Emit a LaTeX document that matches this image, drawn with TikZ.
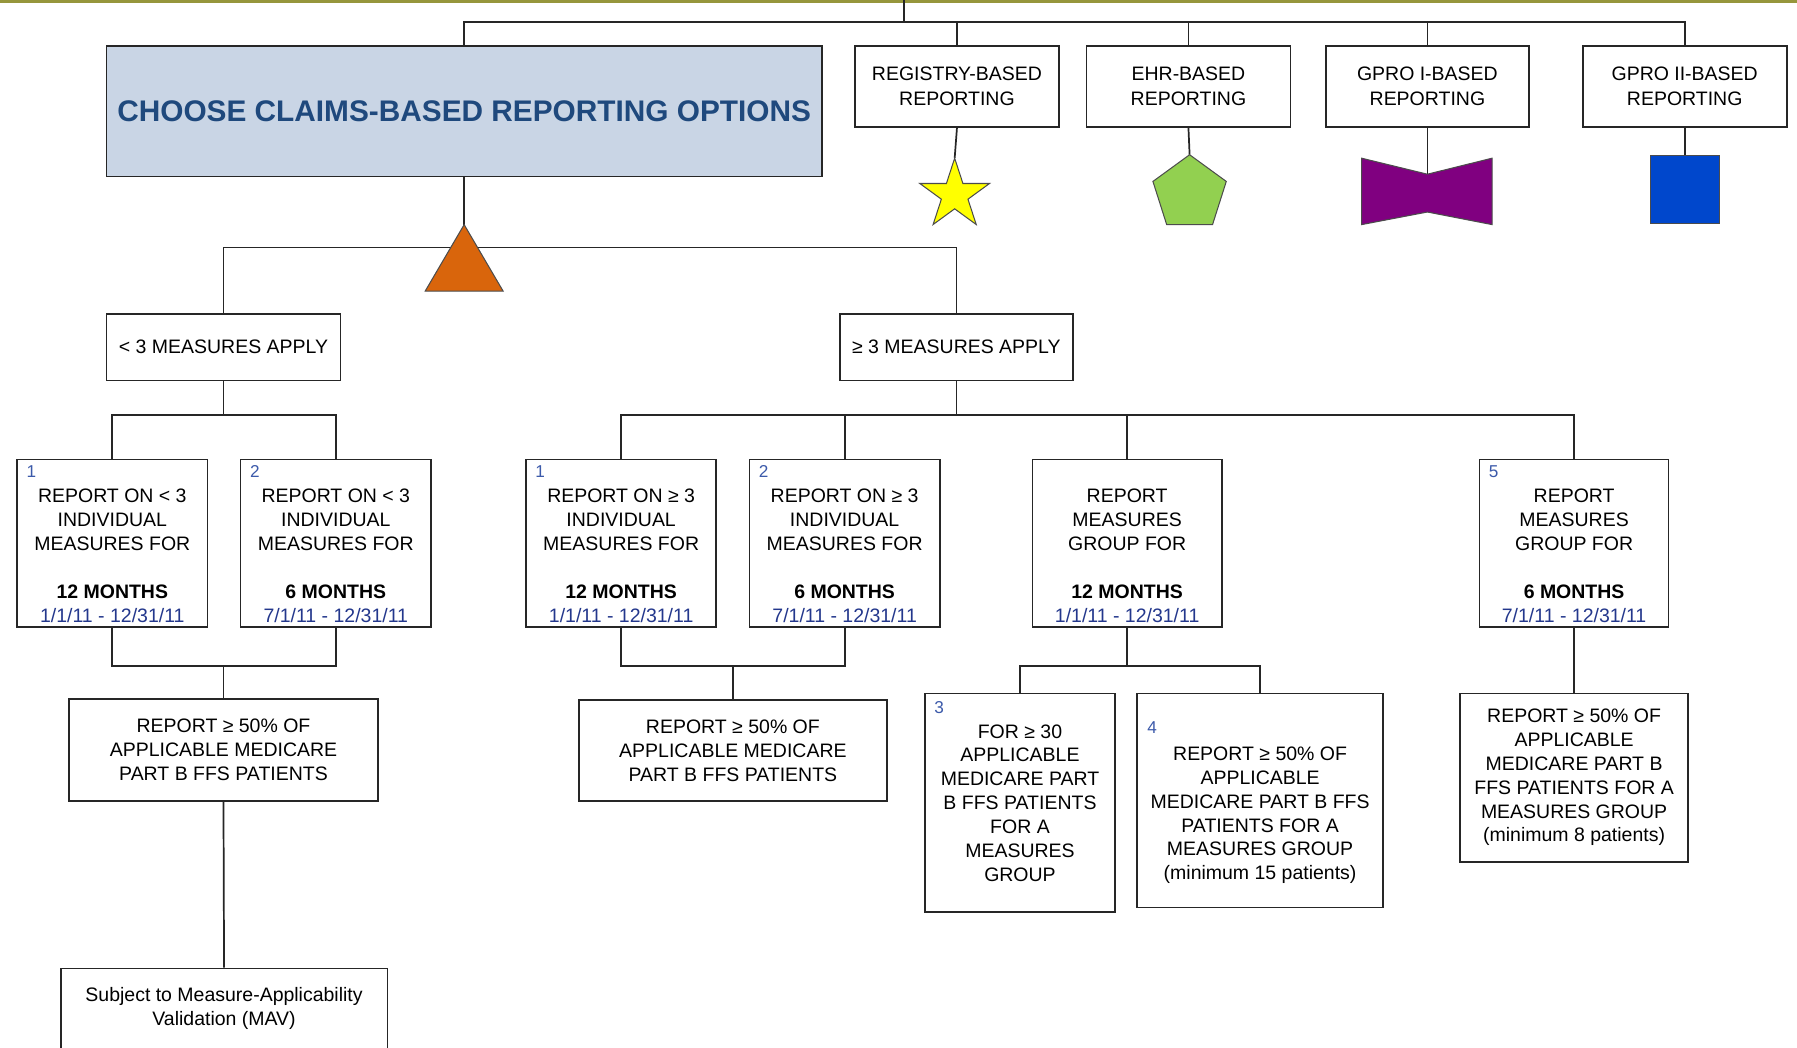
\documentclass[tikz,border=0pt]{standalone}
\usepackage{fontspec}
\setmainfont{Liberation Sans}
\definecolor{titleblue}{RGB}{31,73,125}
\definecolor{boxfill}{RGB}{201,213,229}
\definecolor{numblue}{RGB}{60,90,170}
\definecolor{dateblue}{RGB}{35,55,140}
\definecolor{triorange}{RGB}{217,101,12}
\definecolor{stargold}{RGB}{255,255,0}
\definecolor{pentgreen}{RGB}{146,208,80}
\definecolor{bowpurple}{RGB}{128,0,128}
\definecolor{sqblue}{RGB}{0,71,204}
\definecolor{olivebar}{RGB}{150,150,60}
\begin{document}
\begin{tikzpicture}[x=1pt,y=-1pt,
  box/.style={draw=black!85, line width=1.4pt, inner sep=0pt, fill=white},
  txt/.style={font=\fontsize{17}{20.8}\selectfont, align=center, inner sep=0pt},
  toptxt/.style={font=\fontsize{17}{22}\selectfont, align=center},
  num/.style={font=\fontsize{15}{18}\selectfont, text=numblue, inner sep=0pt, anchor=base west},
  conn/.style={draw=black!85, line width=1.5pt},
  symb/.style={draw=black!70, line width=0.9pt}
]
\useasboundingbox (0,0) rectangle (1568,914);
\fill[white] (0,0) rectangle (1568,914);
\clip (0,0) rectangle (1568,914);
\draw[olivebar, line width=3pt] (0,1) -- (1568,1);

% ---------- top row ----------
\node[box, fill=boxfill, minimum width=624pt, minimum height=114pt] (main) at (405,97)
  {\fontsize{26}{30}\selectfont\bfseries\color{titleblue}CHOOSE CLAIMS-BASED REPORTING OPTIONS};
\node[box, toptxt, minimum width=178pt, minimum height=71pt] (reg) at (835,75.5) {REGISTRY-BASED\\REPORTING};
\node[box, toptxt, minimum width=178pt, minimum height=71pt] (ehr) at (1037,75.5) {EHR-BASED\\REPORTING};
\node[box, toptxt, minimum width=177pt, minimum height=71pt] (gp1) at (1245.5,75.5) {GPRO I-BASED\\REPORTING};
\node[box, toptxt, minimum width=178pt, minimum height=71pt] (gp2) at (1470,75.5) {GPRO II-BASED\\REPORTING};

\coordinate (top) at (789,0);
\coordinate (bus) at (789,19);
\draw[conn] (top) -- (bus);
\draw[conn] (main.north) |- (bus) -| (gp2.north);
\draw[conn] (reg.north) -- (reg.north |- bus);
\draw[conn] (ehr.north) -- (ehr.north |- bus);
\draw[conn] (gp1.north) -- (gp1.north |- bus);

% symbols
\coordinate (startop) at (833,138);
\coordinate (penttop) at (1038,135);
\coordinate (bowtop) at (1245.5,152);
\coordinate (sqtop) at (1470,136);
\draw[conn] (reg.south) -- (startop);
\draw[conn] (ehr.south) -- (penttop);
\draw[conn] (gp1.south) -- (bowtop);
\draw[conn] (gp2.south) -- (sqtop);
\filldraw[symb, fill=stargold] (833,138)--(825.8,160.1)--(802.6,160.1)--(821.4,173.8)--(814.2,195.9)--(833,182.2)--(851.8,195.9)--(844.6,173.8)--(863.4,160.1)--(840.2,160.1)--cycle;
\filldraw[symb, fill=pentgreen] (1038,135)--(1006,158.3)--(1018,196)--(1058,196)--(1070,158.3)--cycle;
\filldraw[symb, fill=bowpurple] (1188,138)--(1245.5,152)--(1302,138)--(1302,196)--(1245.5,185)--(1188,196)--cycle;
\filldraw[symb, fill=sqblue] (1440,136) rectangle (1500,195);

% ---------- second level ----------
\node[box, txt, minimum width=204pt, minimum height=58pt] (lt3) at (195,303) {< 3 MEASURES APPLY};
\node[box, txt, minimum width=203pt, minimum height=58pt] (ge3) at (834.5,303) {≥ 3 MEASURES APPLY};
\coordinate (triapex) at (405,196);
\coordinate (split) at (405,216);
\draw[conn] (main.south) -- (triapex);
\draw[conn] (lt3.north) |- (split) -| (ge3.north);
\filldraw[symb, fill=triorange] (triapex) -- (371,254) -- (439,254) -- cycle;

% ---------- third level boxes ----------
\foreach \n/\cx in {L1/98, L2/293, R1/542, R2/737}{
  \node[box, minimum width=166pt, minimum height=146pt] (\n) at (\cx,474) {};
}
\node[box, minimum width=165pt, minimum height=146pt] (R3) at (983.5,474) {};
\node[box, minimum width=165pt, minimum height=146pt] (R5) at (1373.5,474) {};

\node[num] (n1) at (23,416.4) {1};
\node[num] (n2) at (218,416.4) {2};
\node[num] (n3) at (467,416.4) {1};
\node[num] (n4) at (662,416.4) {2};
\node[num] (n5) at (1299,416.4) {5};

\node[txt, anchor=north] (L1t) at (98,426.5) {REPORT ON < 3\\INDIVIDUAL\\MEASURES FOR\\[21pt]\textbf{12 MONTHS}\\\textcolor{dateblue}{1/1/11 - 12/31/11}};
\node[txt, anchor=north] (L2t) at (293,426.5) {REPORT ON < 3\\INDIVIDUAL\\MEASURES FOR\\[21pt]\textbf{6 MONTHS}\\\textcolor{dateblue}{7/1/11 - 12/31/11}};
\node[txt, anchor=north] (R1t) at (542,426.5) {REPORT ON ≥ 3\\INDIVIDUAL\\MEASURES FOR\\[21pt]\textbf{12 MONTHS}\\\textcolor{dateblue}{1/1/11 - 12/31/11}};
\node[txt, anchor=north] (R2t) at (737,426.5) {REPORT ON ≥ 3\\INDIVIDUAL\\MEASURES FOR\\[21pt]\textbf{6 MONTHS}\\\textcolor{dateblue}{7/1/11 - 12/31/11}};
\node[txt, anchor=north] (R3t) at (983.5,426.5) {REPORT\\MEASURES\\GROUP FOR\\[21pt]\textbf{12 MONTHS}\\\textcolor{dateblue}{1/1/11 - 12/31/11}};
\node[txt, anchor=north] (R5t) at (1373.5,426.5) {REPORT\\MEASURES\\GROUP FOR\\[21pt]\textbf{6 MONTHS}\\\textcolor{dateblue}{7/1/11 - 12/31/11}};

\coordinate (j1) at (195,362);
\draw[conn] (lt3.south) -- (j1);
\draw[conn] (L1.north) |- (j1) -| (L2.north);
\coordinate (j3) at (834.5,362);
\draw[conn] (ge3.south) -- (j3);
\draw[conn] (R1.north) |- (j3) -| (R5.north);
\draw[conn] (R2.north) -- (R2.north |- j3);
\draw[conn] (R3.north) -- (R3.north |- j3);

% ---------- fourth level ----------
\node[box, txt, minimum width=270pt, minimum height=89pt] (LP) at (195,654.5) {REPORT ≥ 50\% OF\\APPLICABLE MEDICARE\\PART B FFS PATIENTS};
\node[box, txt, minimum width=269pt, minimum height=88pt] (RP) at (639.5,655) {REPORT ≥ 50\% OF\\APPLICABLE MEDICARE\\PART B FFS PATIENTS};
\node[box, txt, minimum width=166pt, minimum height=191pt] (B3) at (890,700.5) {FOR ≥ 30\\APPLICABLE\\MEDICARE PART\\B FFS PATIENTS\\FOR A\\MEASURES\\GROUP};
\node[box, minimum width=215pt, minimum height=187pt] (B4) at (1099.5,698.5) {};
\node[txt, anchor=north] (B4t) at (1099.5,651.5) {REPORT ≥ 50\% OF\\APPLICABLE\\MEDICARE PART B FFS\\PATIENTS FOR A\\MEASURES GROUP\\(minimum 15 patients)};
\node[box, txt, minimum width=199pt, minimum height=147pt] (B5) at (1373.5,678.5) {REPORT ≥ 50\% OF\\APPLICABLE\\MEDICARE PART B\\FFS PATIENTS FOR A\\MEASURES GROUP\\(minimum 8 patients)};
\node[num] (n6) at (815,622.4) {3};
\node[num] (n7) at (1001,640.4) {4};

\coordinate (j2) at (195,581);
\draw[conn] (L1.south) |- (j2) -| (L2.south);
\draw[conn] (j2) -- (LP.north);
\coordinate (j4) at (639.5,581);
\draw[conn] (R1.south) |- (j4) -| (R2.south);
\draw[conn] (j4) -- (RP.north);
\coordinate (j5) at (983.5,581);
\draw[conn] (R3.south) -- (j5);
\draw[conn] (B3.north) |- (j5) -| (B4.north);
\draw[conn] (R5.south) -- (B5.north);

% ---------- MAV ----------
\node[box, txt, minimum width=285pt, minimum height=70pt] (MAV) at (195.5,880) {Subject to Measure-Applicability\\Validation (MAV)};
\draw[conn] (LP.south) -- (MAV.north);
\end{tikzpicture}
\end{document}
